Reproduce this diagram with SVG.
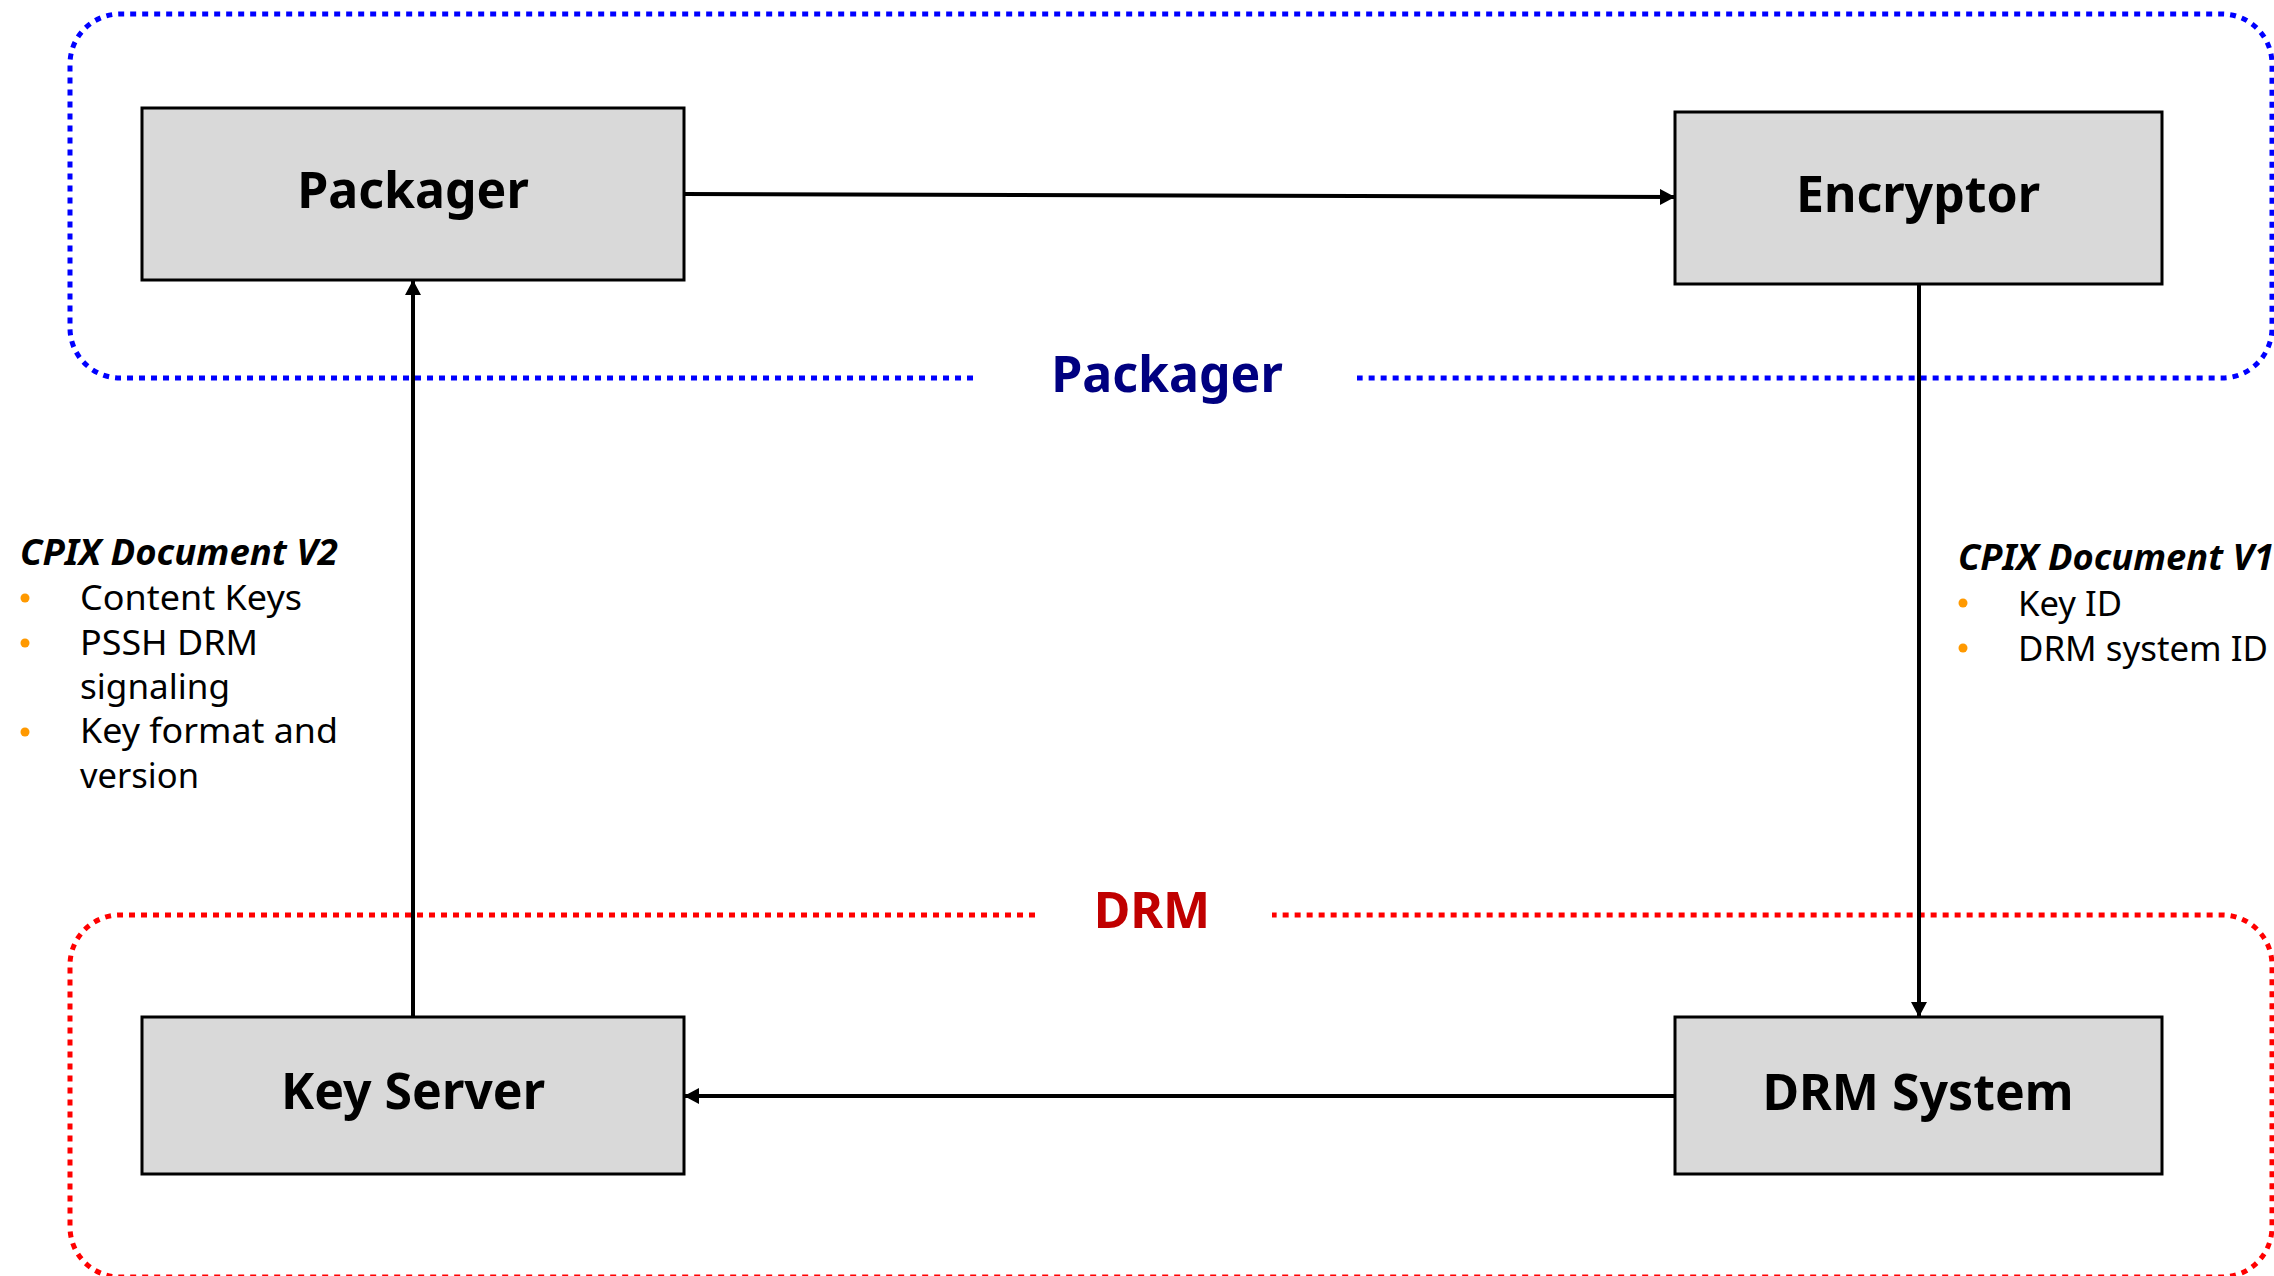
<svg xmlns="http://www.w3.org/2000/svg" width="2274" height="1276" viewBox="0 0 2274 1276">
<style>
.box{fill:#D9D9D9;stroke:#000;stroke-width:3}
.lbl{font-family:"Noto Sans","Open Sans",sans-serif;font-weight:bold;font-size:50px;text-anchor:middle;fill:#000}
.conn{stroke:#000;stroke-width:4;fill:none}
.grp{fill:none;stroke-width:5;stroke-dasharray:6 6}
.title{font-family:"Noto Sans","Open Sans",sans-serif;font-weight:bold;font-style:italic;font-size:35px;fill:#000}
.body{font-family:"Noto Sans","Open Sans",sans-serif;font-size:35px;fill:#000}
.dot{fill:#FF9900}
</style>
<defs>
<marker id="arr" markerUnits="userSpaceOnUse" markerWidth="15" markerHeight="16" refX="15" refY="8" orient="auto">
<path d="M0,0 L15,8 L0,16 z" fill="#000"/>
</marker>
</defs>
<rect width="2274" height="1276" fill="#fff"/>
<g id="group-packager">
<path class="grp" stroke="#0000FF" d="M973,378 H120 A50,50 0 0 1 70,328 V64 A50,50 0 0 1 120,14 H2222 A50,50 0 0 1 2272,64 V328 A50,50 0 0 1 2222,378 H1357"/>
<text x="1167" y="392" class="lbl" style="fill:#000080">Packager</text>
</g>
<g id="group-drm">
<path class="grp" stroke="#FF0000" d="M1035,915 H120 A50,50 0 0 0 70,965 V1227 A50,50 0 0 0 120,1277 H2222 A50,50 0 0 0 2272,1227 V965 A50,50 0 0 0 2222,915 H1272"/>
<text x="1152" y="928" class="lbl" style="fill:#C00000">DRM</text>
</g>
<g id="connectors">
<line class="conn" x1="684" y1="194" x2="1675" y2="197" marker-end="url(#arr)"/>
<line class="conn" x1="1919" y1="284" x2="1919" y2="1017" marker-end="url(#arr)"/>
<line class="conn" x1="1675" y1="1096" x2="684" y2="1096" marker-end="url(#arr)"/>
<line class="conn" x1="413" y1="1017" x2="413" y2="280" marker-end="url(#arr)"/>
</g>
<g id="node-packager">
<rect class="box" x="142" y="108" width="542" height="172"/>
<text x="413" y="208" class="lbl">Packager</text>
</g>
<g id="node-encryptor">
<rect class="box" x="1675" y="112" width="487" height="172"/>
<text x="1918" y="212" class="lbl">Encryptor</text>
</g>
<g id="node-keyserver">
<rect class="box" x="142" y="1017" width="542" height="157"/>
<text x="413" y="1109" class="lbl">Key Server</text>
</g>
<g id="node-drmsystem">
<rect class="box" x="1675" y="1017" width="487" height="157"/>
<text x="1918" y="1110" class="lbl">DRM System</text>
</g>
<g id="note-v2">
<text x="20" y="565" class="title" textLength="318" lengthAdjust="spacingAndGlyphs">CPIX Document V2</text>
<circle class="dot" cx="25" cy="598" r="4.5"/>
<circle class="dot" cx="25" cy="643" r="4.5"/>
<circle class="dot" cx="25" cy="732" r="4.5"/>
<text x="80" y="610" class="body" textLength="222" lengthAdjust="spacingAndGlyphs">Content Keys</text>
<text x="80" y="655" class="body" textLength="178" lengthAdjust="spacingAndGlyphs">PSSH DRM</text>
<text x="80" y="699" class="body" textLength="150" lengthAdjust="spacingAndGlyphs">signaling</text>
<text x="80" y="743" class="body" textLength="258" lengthAdjust="spacingAndGlyphs">Key format and</text>
<text x="80" y="788" class="body" textLength="119" lengthAdjust="spacingAndGlyphs">version</text>
</g>
<g id="note-v1">
<text x="1958" y="570" class="title" textLength="316" lengthAdjust="spacingAndGlyphs">CPIX Document V1</text>
<circle class="dot" cx="1963" cy="603" r="4.5"/>
<circle class="dot" cx="1963" cy="648" r="4.5"/>
<text x="2018" y="616" class="body" textLength="104" lengthAdjust="spacingAndGlyphs">Key ID</text>
<text x="2018" y="661" class="body" textLength="250" lengthAdjust="spacingAndGlyphs">DRM system ID</text>
</g>
</svg>
